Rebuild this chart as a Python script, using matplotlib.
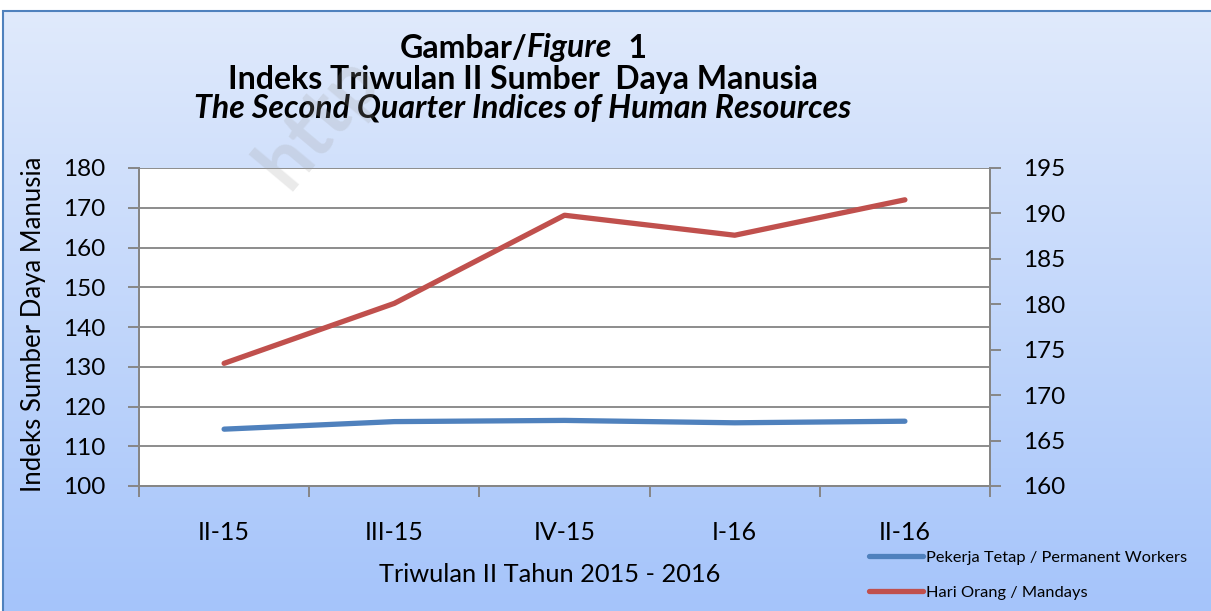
import matplotlib
matplotlib.use("Agg")
import matplotlib.pyplot as plt
import numpy as np
from matplotlib.patches import Rectangle

categories = ["II-15", "III-15", "IV-15", "I-16", "II-16"]
permanent_workers = [114.3, 116.2, 116.5, 115.9, 116.3]
mandays = [173.5, 180.1, 189.8, 187.6, 191.5]
left_ticks = [100, 110, 120, 130, 140, 150, 160, 170, 180]
right_ticks = [160, 165, 170, 175, 180, 185, 190, 195]

FONT = "Lato"
W, H = 1211, 611
fig = plt.figure(figsize=(W / 100, H / 100), dpi=100)
fig.patch.set_facecolor("white")

# gradient background
bg = fig.add_axes([3 / W, 0, 1 - 3 / W, 1 - 11 / H])
bg.set_axis_off()
top = np.array([224, 234, 252]) / 255
bot = np.array([165, 196, 250]) / 255
t = np.linspace(0, 1, 256)[:, None]
grad = top[None, None, :] * (1 - t[..., None]) + bot[None, None, :] * t[..., None]
grad = np.repeat(grad, 2, axis=1)
bg.imshow(grad, aspect="auto", extent=[0, 1, 0, 1], origin="upper")
bg.set_xlim(0, 1)
bg.set_ylim(0, 1)
fig.add_artist(Rectangle((3 / W, -0.01), 1.0, 1 - 11 / H + 0.01, transform=fig.transFigure,
                         fill=False, edgecolor="#4f81bd", linewidth=1.5))

ax = fig.add_axes([139 / W, 1 - 486 / H, (990 - 139) / W, (486 - 168) / H])
ax.set_facecolor("white")
x = np.arange(len(categories))
ax.plot(x, permanent_workers, color="#4f81bd", linewidth=3.8, solid_capstyle="round",
        label="Pekerja Tetap / Permanent Workers", zorder=3)
ax.set_xlim(-0.5, len(categories) - 0.5)
ax.set_ylim(100, 180)
ax.set_yticks(left_ticks)
ax.grid(axis="y", color="#8c8c8c", linewidth=1.4)
ax.set_axisbelow(True)
ax.set_xticks(np.arange(-0.5, len(categories), 1.0))
ax.set_xticks(x, minor=True)
ax.set_xticklabels([])
ax.set_xticklabels(categories, minor=True)
ax.tick_params(axis="x", which="major", length=8, width=1.4, color="#868686", direction="out")
ax.tick_params(axis="x", which="minor", length=0, pad=25, labelsize=18)
ax.tick_params(axis="y", length=8, width=1.4, color="#868686", direction="out", pad=16, labelsize=17.5)
for s in ax.spines.values():
    s.set_color("#868686")
    s.set_linewidth(1.4)
ax.spines["top"].set_visible(False)
for lbl in ax.get_xticklabels(minor=True) + ax.get_yticklabels():
    lbl.set_fontfamily(FONT)

ax2 = ax.twinx()
ax2.plot(x, mandays, color="#c0504d", linewidth=3.8, solid_capstyle="round",
         label="Hari Orang / Mandays", zorder=3)
ax2.set_ylim(160, 195)
ax2.set_yticks(right_ticks)
ax2.tick_params(axis="y", length=8, width=1.4, color="#868686", direction="out", pad=16, labelsize=17.5)
for s in ax2.spines.values():
    s.set_color("#868686")
    s.set_linewidth(1.4)
ax2.spines["top"].set_visible(False)
for lbl in ax2.get_yticklabels():
    lbl.set_fontfamily(FONT)

fig.text(46 / W, 1 - 324 / H, "Indeks Sumber Daya Manusia", fontsize=18.5, fontfamily=FONT,
         rotation=90, ha="right", va="center")

fig.text(550 / W, 1 - 575 / H, "Triwulan II Tahun 2015 - 2016", fontsize=18.3, fontfamily=FONT,
         ha="center", va="center")

# legend
h1, l1 = ax.get_legend_handles_labels()
h2, l2 = ax2.get_legend_handles_labels()
leg = fig.legend(h1 + h2, l1 + l2, loc="center left", bbox_to_anchor=(862 / W, 1 - 575 / H),
                 frameon=False, prop={"family": FONT, "size": 11.8}, handlelength=3.3,
                 handletextpad=0.2, labelspacing=1.25, borderaxespad=0)

# title
fig.canvas.draw()
r = fig.canvas.get_renderer()
cx = 523 / W
y1 = 1 - 48 / H
TS = 23
parts = [("Gambar/", "normal"), ("Figure", "italic"), ("  1", "normal")]
objs = [fig.text(0, y1, p, fontsize=TS, fontweight="bold", style=st, fontfamily=FONT,
                 ha="left", va="center") for p, st in parts]
widths = [o.get_window_extent(r).width / W for o in objs]
xs = cx - sum(widths) / 2
for o, w in zip(objs, widths):
    o.set_x(xs)
    xs += w
fig.text(cx, 1 - 79 / H, "Indeks Triwulan II Sumber  Daya Manusia", fontsize=TS, fontweight="bold",
         fontfamily=FONT, ha="center", va="center")
fig.text(cx, 1 - 108 / H, "The Second Quarter Indices of Human Resources", fontsize=TS,
         fontweight="bold", style="italic", fontfamily=FONT, ha="center", va="center")

# faint watermark
fig.text(272 / W, 1 - 178 / H, "http", fontsize=56, fontweight="bold",
         fontfamily=FONT, color="#a0a0a0", alpha=0.22, rotation=50, ha="left", va="center",
         rotation_mode="anchor", zorder=10)

fig.savefig("out.png", dpi=100, facecolor=fig.get_facecolor())
